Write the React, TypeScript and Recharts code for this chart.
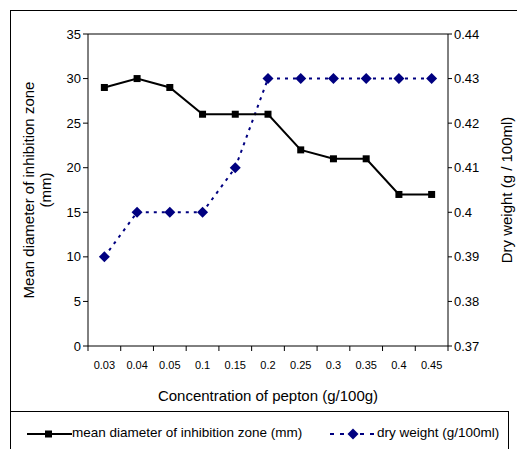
import { ComposedChart, Line, XAxis, YAxis, ReferenceLine } from "recharts";

const categories = ["0.03", "0.04", "0.05", "0.1", "0.15", "0.2", "0.25", "0.3", "0.35", "0.4", "0.45"];
const meanDiameter = [29, 30, 29, 26, 26, 26, 22, 21, 21, 17, 17];
const dryWeight = [0.39, 0.4, 0.4, 0.4, 0.41, 0.43, 0.43, 0.43, 0.43, 0.43, 0.43];
const leftTicks = [0, 5, 10, 15, 20, 25, 30, 35];
const rightTicks = [0.37, 0.38, 0.39, 0.4, 0.41, 0.42, 0.43, 0.44];

const NAVY = "#000080";
const FONT = "Liberation Sans, Arial, sans-serif";

const data = categories.map((c, i) => ({
  pos: i + 0.5,
  cat: c,
  mean: meanDiameter[i],
  dry: dryWeight[i],
}));
// boundary ticks (integers) get a tick mark, centre ticks (halves) get the label
const xTicks = categories.flatMap((_, i) => [i, i + 0.5]).concat([categories.length]);

const XTick = (p: any) => {
  const v = p.payload.value;
  if (Number.isInteger(v)) {
    return <line x1={p.x} x2={p.x} y1={p.y} y2={p.y + 5} stroke="#000" />;
  }
  return (
    <text x={p.x} y={p.y + 23} textAnchor="middle" fontSize={11} fill="#000" fontFamily={FONT}>
      {categories[Math.round(v - 0.5)]}
    </text>
  );
};

const Square = (p: any) => (
  <rect x={p.cx - 3.5} y={p.cy - 3.5} width={7} height={7} fill="#000" />
);
const Diamond = (p: any) => (
  <path d={`M${p.cx},${p.cy - 5.5}L${p.cx + 5.5},${p.cy}L${p.cx},${p.cy + 5.5}L${p.cx - 5.5},${p.cy}Z`} fill={NAVY} />
);

const LeftLabel = (p: any) => {
  const cy = p.viewBox.y + p.viewBox.height / 2;
  return (
    <g fontSize={15} fill="#000" fontFamily={FONT}>
      <text x={0} y={0} transform={`translate(34, ${cy}) rotate(-90)`} textAnchor="middle">
        Mean diameter of inhibition zone
      </text>
      <text x={0} y={0} transform={`translate(51, ${cy}) rotate(-90)`} textAnchor="middle">
        (mm)
      </text>
    </g>
  );
};

const RightLabel = (p: any) => {
  const cy = p.viewBox.y + p.viewBox.height / 2;
  return (
    <text x={0} y={0} transform={`translate(512, ${cy}) rotate(-90)`} textAnchor="middle"
      fontSize={15} fill="#000" fontFamily={FONT}>
      Dry weight (g / 100ml)
    </text>
  );
};

export default function App() {
  return (
    <div style={{ position: "absolute", left: 0, top: 0, width: 517, height: 449, overflow: "hidden", background: "#fff", fontFamily: FONT }}>
      <div style={{ position: "absolute", left: 10, top: 10, width: 520, height: 450, border: "1px solid #000", boxSizing: "border-box" }} />
      <ComposedChart width={517} height={449} data={data}
        margin={{ top: 34, right: 0, bottom: 53, left: 20 }}
        style={{ position: "absolute", left: 0, top: 0 }}>
        <XAxis dataKey="pos" type="number" domain={[0, 11]} ticks={xTicks} interval={0}
          tick={<XTick />} tickLine={false} tickSize={0} tickMargin={0} stroke="#000" height={50}
          label={{ value: "Concentration of pepton (g/100g)", position: "insideBottom", offset: 0, fill: "#000", fontSize: 15, dy: 5 }} />
        <YAxis yAxisId="left" domain={[0, 35]} ticks={leftTicks} tickSize={5} stroke="#000" width={68}
          tick={{ fill: "#000", fontSize: 13 }} interval={0} label={<LeftLabel />} />
        <YAxis yAxisId="right" orientation="right" domain={[0.37, 0.44]} ticks={rightTicks} tickSize={4}
          stroke="#000" width={69} tick={{ fill: "#000", fontSize: 13 }} interval={0}
          tickFormatter={(v: number) => String(Number(v.toFixed(2)))} label={<RightLabel />} />
        <ReferenceLine yAxisId="left" y={35} stroke="#000" />
        <Line yAxisId="right" dataKey="dry" stroke={NAVY} strokeWidth={2} strokeDasharray="3 5"
          dot={<Diamond />} isAnimationActive={false} />
        <Line yAxisId="left" dataKey="mean" stroke="#000" strokeWidth={2}
          dot={<Square />} isAnimationActive={false} />
      </ComposedChart>
      <div style={{ position: "absolute", left: 10, top: 411, width: 499, height: 45, border: "1px solid #000", boxSizing: "border-box", background: "#fff" }}>
        <svg width={60} height={20} style={{ position: "absolute", left: 16, top: 12 }}>
          <line x1={0} y1={10} x2={45} y2={10} stroke="#000" strokeWidth={2} />
          <rect x={18} y={6.5} width={7} height={7} fill="#000" />
        </svg>
        <span style={{ position: "absolute", left: 61, top: 13, fontSize: 13.5, whiteSpace: "nowrap" }}>
          mean diameter of inhibition zone (mm)
        </span>
        <svg width={60} height={20} style={{ position: "absolute", left: 319, top: 12 }}>
          <line x1={0} y1={10} x2={46} y2={10} stroke={NAVY} strokeWidth={2} strokeDasharray="4 6" />
          <path d="M23,4.5L28.5,10L23,15.5L17.5,10Z" fill={NAVY} />
        </svg>
        <span style={{ position: "absolute", left: 366, top: 13, fontSize: 13.5, whiteSpace: "nowrap" }}>
          dry weight (g/100ml)
        </span>
      </div>
    </div>
  );
}
